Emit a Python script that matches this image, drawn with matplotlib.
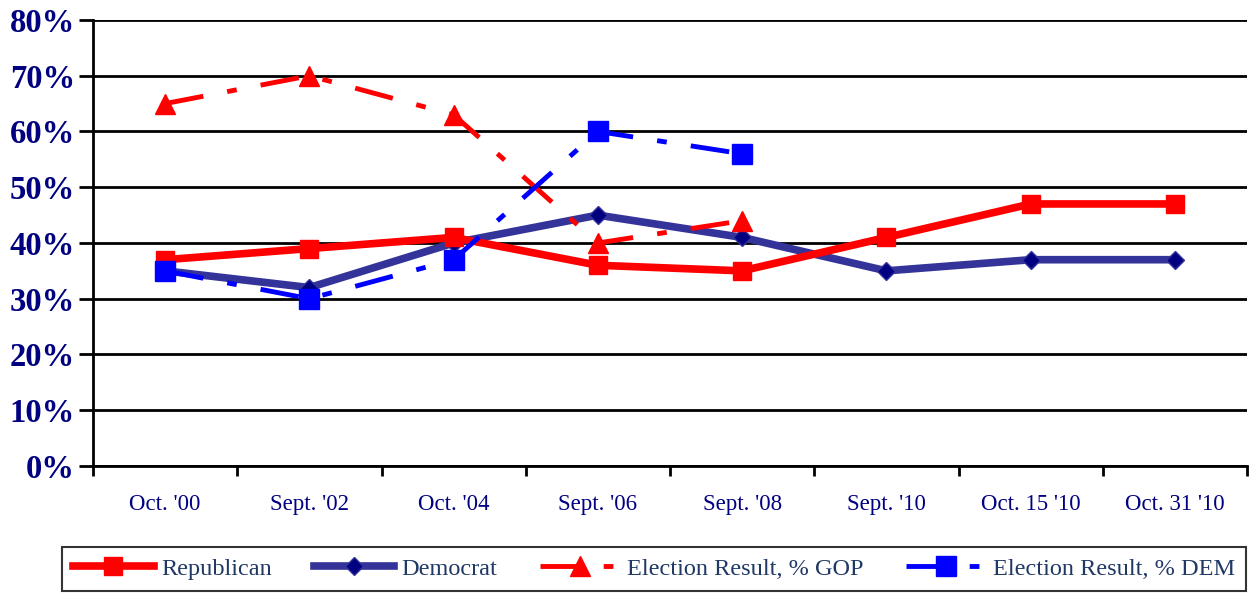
import matplotlib.pyplot as plt
from matplotlib.ticker import FuncFormatter

categories = ["Oct. '00", "Sept. '02", "Oct. '04", "Sept. '06", "Sept. '08",
              "Sept. '10", "Oct. 15 '10", "Oct. 31 '10"]
republican = [37, 39, 41, 36, 35, 41, 47, 47]
democrat = [35, 32, 40, 45, 41, 35, 37, 37]
result_gop = [65, 70, 63, 40, 44]
result_dem = [35, 30, 37, 60, 56]

NAVY = '#000080'
plt.rcParams['font.family'] = ['Liberation Serif', 'DejaVu Serif']

fig = plt.figure(figsize=(12.5, 5.93), dpi=100)
ax = fig.add_axes([0.0744, 0.2142, 0.9232, 0.7521])

x = list(range(len(categories)))
ax.plot(x, republican, color='#FF0000', lw=5.5, marker='s', ms=13,
        label='Republican', zorder=4)
ax.plot(x, democrat, color='#333399', lw=5.5, marker='D', ms=9,
        mfc=NAVY, mec='#333399', label='Democrat', zorder=3)
ax.plot(x[:len(result_gop)], result_gop, color='#FF0000', lw=3.5,
        dashes=(8, 5, 2, 5), marker='^', ms=15,
        label='Election Result, % GOP', zorder=5)
ax.plot(x[:len(result_dem)], result_dem, color='#0000FF', lw=3.5,
        dashes=(8, 5, 2, 5), marker='s', ms=14,
        label='Election Result, % DEM', zorder=5)

ax.set_xlim(-0.5, len(categories) - 0.5)
ax.set_ylim(0, 80)
ax.set_yticks(range(0, 81, 10))
ax.yaxis.set_major_formatter(FuncFormatter(lambda v, p: '%d%%' % v))
ax.set_xticks([i - 0.5 for i in range(len(categories) + 1)])
ax.set_xticklabels([])
ax.set_xticks(x, minor=True)
ax.set_xticklabels(categories, minor=True, fontsize=16.5, color=NAVY)
ax.tick_params(axis='x', which='minor', length=0, pad=20)
ax.tick_params(axis='x', which='major', length=7, width=2, direction='out')
ax.tick_params(axis='y', length=10, width=2, direction='out', pad=3)
for lab in ax.get_yticklabels():
    lab.set_fontsize(23.5)
    lab.set_fontweight('bold')
    lab.set_color(NAVY)

ax.grid(axis='y', color='black', lw=2)
ax.set_axisbelow(True)
for s in ['top', 'right']:
    ax.spines[s].set_visible(False)
for s in ['left', 'bottom']:
    ax.spines[s].set_linewidth(2)

leg = fig.legend(loc='lower left', bbox_to_anchor=(0.048, 0.0, 0.951, 0.076),
                 mode='expand', ncol=4, fontsize=17.5, frameon=True,
                 fancybox=False, edgecolor='black', handlelength=3.3,
                 handletextpad=0.3, columnspacing=0.8, borderpad=0.45,
                 borderaxespad=0.1, labelcolor='#1F3864')
leg.get_frame().set_linewidth(1.5)

fig.savefig('out.png', dpi=100)
